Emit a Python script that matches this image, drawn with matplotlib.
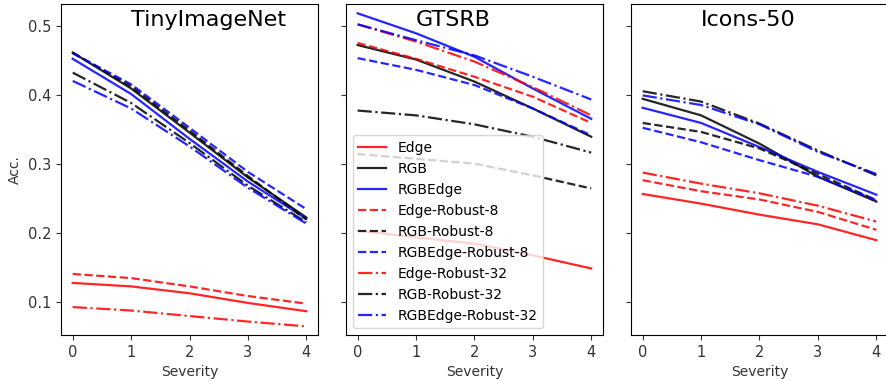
import matplotlib.pyplot as plt
import numpy as np

severity = [0, 1, 2, 3, 4]
datasets = ['TinyImageNet', 'GTSRB', 'Icons-50']
models = ['Edge', 'RGB', 'RGBEdge',
          'Edge-Robust-8', 'RGB-Robust-8', 'RGBEdge-Robust-8',
          'Edge-Robust-32', 'RGB-Robust-32', 'RGBEdge-Robust-32']

# accuracy per severity level, one list per model, in the order of `models`
acc_tiny = [
    [0.127, 0.122, 0.112, 0.098, 0.086],
    [0.461, 0.409, 0.345, 0.280, 0.222],
    [0.452, 0.401, 0.336, 0.274, 0.220],
    [0.140, 0.134, 0.122, 0.108, 0.097],
    [0.461, 0.412, 0.348, 0.282, 0.219],
    [0.460, 0.415, 0.352, 0.288, 0.234],
    [0.092, 0.087, 0.079, 0.071, 0.064],
    [0.432, 0.388, 0.330, 0.268, 0.215],
    [0.420, 0.380, 0.325, 0.265, 0.213],
]
acc_gtsrb = [
    [0.203, 0.193, 0.184, 0.167, 0.148],
    [0.472, 0.451, 0.419, 0.380, 0.339],
    [0.518, 0.489, 0.455, 0.409, 0.365],
    [0.475, 0.452, 0.426, 0.397, 0.359],
    [0.314, 0.307, 0.300, 0.283, 0.264],
    [0.453, 0.436, 0.414, 0.380, 0.341],
    [0.502, 0.477, 0.448, 0.411, 0.370],
    [0.377, 0.370, 0.357, 0.339, 0.316],
    [0.502, 0.479, 0.457, 0.426, 0.393],
]
acc_icons = [
    [0.256, 0.242, 0.226, 0.212, 0.189],
    [0.394, 0.370, 0.329, 0.281, 0.245],
    [0.381, 0.359, 0.324, 0.288, 0.255],
    [0.276, 0.260, 0.248, 0.230, 0.204],
    [0.359, 0.346, 0.322, 0.285, 0.247],
    [0.352, 0.331, 0.305, 0.281, 0.247],
    [0.287, 0.271, 0.257, 0.239, 0.216],
    [0.405, 0.390, 0.358, 0.319, 0.283],
    [0.399, 0.385, 0.357, 0.317, 0.285],
]
all_acc = [acc_tiny, acc_gtsrb, acc_icons]

colors = ['red', 'black', 'blue'] * 3
styles = ['-'] * 3 + ['--'] * 3 + ['-.'] * 3

fig = plt.figure(figsize=(8.87, 3.81), dpi=100)
lefts = [0.0688, 0.390, 0.7114]
axes = []
for i, left in enumerate(lefts):
    ax = fig.add_axes([left, 0.1207, 0.2897, 0.8688],
                      sharey=axes[0] if axes else None)
    axes.append(ax)

for i, ax in enumerate(axes):
    for j, name in enumerate(models):
        ax.plot(severity, all_acc[i][j], color=colors[j], linestyle=styles[j],
                linewidth=1.6, alpha=0.85, label=name)
    ax.set_xticks(severity)
    ax.tick_params(labelsize=10.5, colors='#333333')
    ax.set_xlabel('Severity', fontsize=10, color='#333333')
    ax.text(1, 0.5, datasets[i], fontsize=16, ha='left', va='baseline')
    if i > 0:
        ax.tick_params(labelleft=False)

axes[0].set_ylim(0.0515, 0.5315)
axes[0].set_yticks([0.1, 0.2, 0.3, 0.4, 0.5])
axes[0].set_ylabel('Acc.', fontsize=10, color='#333333')
axes[1].legend(loc='lower left', fontsize=10, handlelength=2.0,
               borderpad=0.4, labelspacing=0.5)

fig.savefig('out.png', dpi=100)
